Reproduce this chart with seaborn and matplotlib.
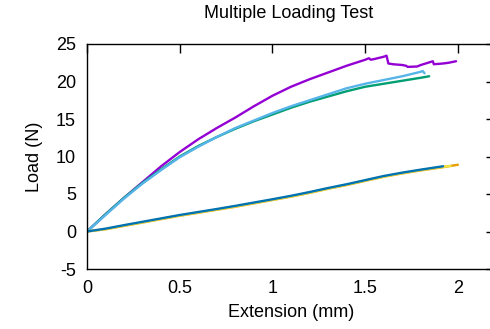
import matplotlib
matplotlib.use("Agg")
import matplotlib.pyplot as plt
import seaborn as sns
import pandas as pd

# ---- data ----
purple_x = [0, 0.1, 0.2, 0.3, 0.4, 0.5, 0.6, 0.7, 0.8, 0.9, 1.0, 1.1, 1.2, 1.3, 1.4, 1.5,
            1.52, 1.53, 1.55, 1.6, 1.615, 1.625, 1.65, 1.7, 1.72, 1.73, 1.78, 1.8, 1.865,
            1.87, 1.92, 1.95, 1.99]
purple_y = [0, 2.3, 4.5, 6.6, 8.7, 10.6, 12.3, 13.8, 15.2, 16.7, 18.1, 19.3, 20.3, 21.2, 22.1, 22.9,
            23.1, 22.9, 23.0, 23.3, 23.45, 22.4, 22.3, 22.2, 22.1, 21.95, 22.0, 22.2, 22.7,
            22.3, 22.4, 22.5, 22.7]

green_x = [0, 0.1, 0.2, 0.3, 0.4, 0.5, 0.6, 0.7, 0.8, 0.9, 1.0, 1.1, 1.2, 1.3, 1.4, 1.5,
           1.6, 1.7, 1.8, 1.845]
green_y = [0, 2.3, 4.5, 6.5, 8.3, 10.0, 11.4, 12.6, 13.7, 14.7, 15.6, 16.5, 17.3, 18.0, 18.7, 19.3,
           19.7, 20.1, 20.5, 20.7]

blue_x = [0, 0.1, 0.2, 0.3, 0.4, 0.5, 0.6, 0.7, 0.8, 0.9, 1.0, 1.1, 1.2, 1.3, 1.4, 1.5,
          1.6, 1.7, 1.8, 1.81, 1.82]
blue_y = [0, 2.2, 4.4, 6.4, 8.2, 9.9, 11.3, 12.6, 13.8, 14.8, 15.8, 16.7, 17.5, 18.3, 19.1, 19.7,
          20.2, 20.7, 21.3, 21.4, 21.1]

orange_x = [0, 0.1, 0.2, 0.3, 0.4, 0.5, 0.6, 0.7, 0.8, 0.9, 1.0, 1.1, 1.2, 1.3, 1.4, 1.5,
            1.6, 1.7, 1.8, 1.9, 2.0]
orange_y = [0, 0.3, 0.75, 1.2, 1.65, 2.1, 2.5, 2.9, 3.3, 3.75, 4.2, 4.65, 5.15, 5.7, 6.2, 6.75,
            7.3, 7.75, 8.15, 8.5, 8.9]

yellow_x = [0, 0.1, 0.2, 0.3, 0.4, 0.5, 0.6, 0.7, 0.8, 0.9, 1.0, 1.1, 1.2, 1.3, 1.4, 1.5,
            1.6, 1.7, 1.8, 1.9, 1.96]
yellow_y = [0, 0.32, 0.78, 1.23, 1.68, 2.13, 2.53, 2.93, 3.34, 3.78, 4.23, 4.68, 5.18, 5.72, 6.23, 6.78,
            7.32, 7.78, 8.18, 8.55, 8.75]

dblue_x = [0, 0.1, 0.2, 0.3, 0.4, 0.5, 0.6, 0.7, 0.8, 0.9, 1.0, 1.1, 1.2, 1.3, 1.4, 1.5,
           1.6, 1.7, 1.8, 1.92]
dblue_y = [0, 0.38, 0.85, 1.3, 1.75, 2.2, 2.6, 3.0, 3.42, 3.86, 4.3, 4.76, 5.26, 5.8, 6.3, 6.85,
           7.4, 7.85, 8.25, 8.7]

x_ticks = [0, 0.5, 1, 1.5, 2]
x_tick_labels = ["0", "0.5", "1", "1.5", "2"]
y_ticks = [-5, 0, 5, 10, 15, 20, 25]
y_tick_labels = ["-5", "0", "5", "10", "15", "20", "25"]

series = [("s1", purple_x, purple_y), ("s2", green_x, green_y), ("s3", blue_x, blue_y),
          ("s4", orange_x, orange_y), ("s5", yellow_x, yellow_y), ("s6", dblue_x, dblue_y)]
colors = ["#9400d3", "#009e73", "#56b4e9", "#e69f00", "#f0e442", "#0072b2"]

rows = []
for name, xs, ys in series:
    for i, (a, b) in enumerate(zip(xs, ys)):
        rows.append({"series": name, "idx": i, "x": a, "y": b})
df = pd.DataFrame(rows)

sns.set_style("white")
plt.rcParams["font.family"] = ["Liberation Sans", "DejaVu Sans"]
plt.rcParams["axes.unicode_minus"] = False
plt.rcParams["text.color"] = "black"
plt.rcParams["axes.labelcolor"] = "black"
plt.rcParams["xtick.color"] = "black"
plt.rcParams["ytick.color"] = "black"

fig = plt.figure(figsize=(4.9, 3.29), dpi=100)
ax = fig.add_axes([87 / 490, (329 - 269) / 329, (495 - 87) / 490, (269 - 44) / 329])

sns.lineplot(data=df, x="x", y="y", hue="series", units="series", estimator=None,
             sort=False, palette=colors, linewidth=1.7, legend=False, ax=ax)

ax.set_xlim(0, 2.2)
ax.set_ylim(-5, 25)
ax.set_xticks(x_ticks)
ax.set_xticklabels(x_tick_labels)
ax.set_yticks(y_ticks)
ax.set_yticklabels(y_tick_labels)
ax.tick_params(direction="in", length=6.5, width=1, labelsize=13, top=True, right=True,
               color="black", labelcolor="black")
ax.tick_params(axis="y", pad=8)
ax.tick_params(axis="x", pad=8)
for s in ax.spines.values():
    s.set_color("black")
    s.set_linewidth(1)

ax.set_xlabel("Extension (mm)", fontsize=13, labelpad=5, color="black")
ax.set_ylabel("Load (N)", fontsize=13, labelpad=9, color="black")
fig.text(289 / 490, 1 - 14 / 329, "Multiple Loading Test", ha="center", va="center",
         fontsize=13, color="black")

fig.savefig("out.png", dpi=100)
